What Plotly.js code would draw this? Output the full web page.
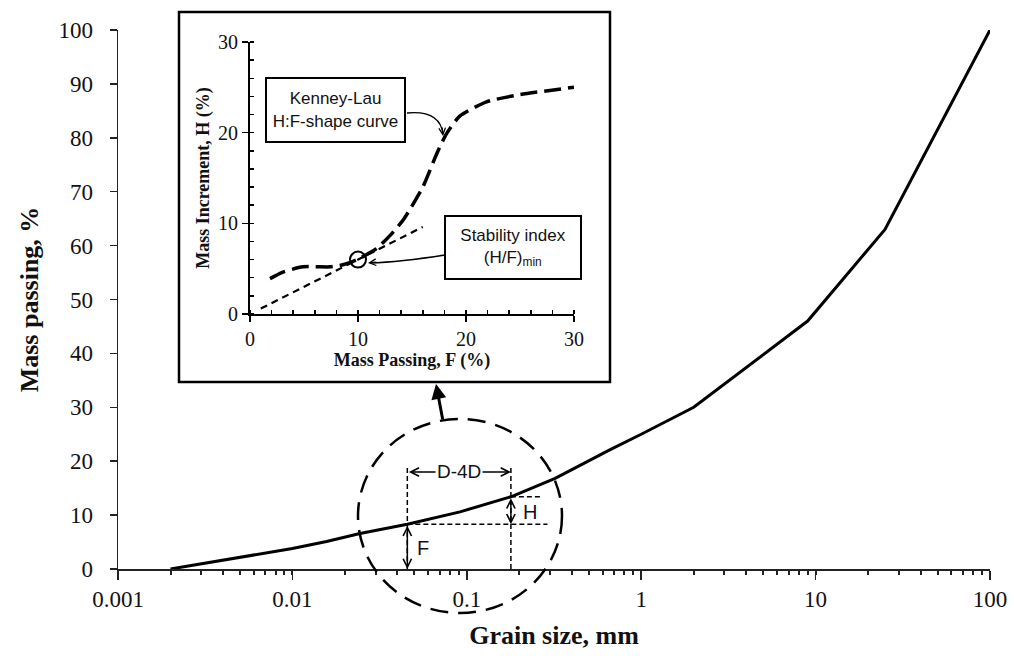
<!DOCTYPE html>
<html>
<head>
<meta charset="utf-8">
<script src="https://cdn.plot.ly/plotly-3.0.1.min.js"></script>
<style>html,body{margin:0;padding:0;background:#fff;}#chart{width:1014px;height:656px;}</style>
</head>
<body>
<div id="chart"></div>
<script>
// ---- main grading curve ----
const grainSize   = [0.002, 0.003, 0.005, 0.01, 0.0157, 0.0244, 0.0456, 0.0914, 0.179, 0.321, 0.66, 1, 2, 9, 25, 100];
const massPassing = [0, 0.95, 2.2, 3.8, 5.1, 6.6, 8.3, 10.6, 13.4, 16.8, 22.1, 25, 30, 46, 63, 100];
const xTickVals   = [0.001, 0.01, 0.1, 1, 10, 100];
const xTickText   = ['0.001', '0.01', '0.1', '1', '10', '100'];

// ---- D-4D construction ----
const sizeD   = 0.0456;
const size4D  = 0.179;
const passF   = 8.3;      // F at D
const passAt4D = 13.4;    // F+H at 4D
const guideTop = 19.3;
const arrowLevel = 18;
const guideEndF = 0.29;
const guideEndH = 0.27;

// ---- inset: Kenney-Lau H:F curve ----
const klF = [1.85, 3, 4.9, 7.4, 8.5, 9.9, 11.7, 13, 14.2, 16.0, 17.3, 18.2, 19.4, 21.9, 25, 30];
const klH = [3.9, 4.6, 5.2, 5.2, 5.4, 6.0, 7.2, 8.7, 10.4, 14.0, 17.7, 19.9, 21.8, 23.4, 24.2, 25.0];
const hfLineF = [1, 16];
const hfLineH = [0.6, 9.6];
const minF = [10];
const minH = [6];
const insetTicks = [0, 10, 20, 30];

// pixel -> paper helpers (plot area 118..990 x, 30..569 y)
const L = 118, R = 990, T = 30, B = 569;
const px = v => (v - L) / (R - L);
const py = v => (B - v) / (B - T);

const serif = 'Liberation Serif, Times New Roman, serif';
const sans = 'Liberation Sans, Arial, sans-serif';
const dashGuide = '5px,3px';

const traces = [
  {x: grainSize, y: massPassing, type: 'scatter', mode: 'lines', cliponaxis: false,
   line: {color: '#000', width: 3}, xaxis: 'x', yaxis: 'y', hoverinfo: 'skip'},
  // guides
  {x: [sizeD, sizeD], y: [0, guideTop], mode: 'lines', line: {color: '#000', width: 1.5, dash: dashGuide}, xaxis: 'x', yaxis: 'y'},
  {x: [size4D, size4D], y: [0, guideTop], mode: 'lines', line: {color: '#000', width: 1.5, dash: dashGuide}, xaxis: 'x', yaxis: 'y'},
  {x: [sizeD, guideEndF], y: [passF, passF], mode: 'lines', line: {color: '#000', width: 1.5, dash: dashGuide}, xaxis: 'x', yaxis: 'y'},
  {x: [size4D, guideEndH], y: [passAt4D, passAt4D], mode: 'lines', line: {color: '#000', width: 1.5, dash: dashGuide}, xaxis: 'x', yaxis: 'y'},
  // inset
  {x: klF, y: klH, mode: 'lines', line: {color: '#000', width: 3.5, dash: '17px,7px', shape: 'spline', smoothing: 0.6},
   xaxis: 'x2', yaxis: 'y2'},
  {x: hfLineF, y: hfLineH, mode: 'lines', line: {color: '#000', width: 2.2, dash: '7px,5px'}, xaxis: 'x2', yaxis: 'y2'},
  {x: minF, y: minH, mode: 'markers', marker: {symbol: 'circle-open', size: 16, color: '#000', line: {width: 2, color: '#000'}},
   xaxis: 'x2', yaxis: 'y2'}
];

const lg = Math.log10;
const annotations = [
  // D-4D double arrow
  {x: lg(size4D), y: arrowLevel, ax: lg(sizeD), ay: arrowLevel, axref: 'x', ayref: 'y', xref: 'x', yref: 'y',
   text: '', showarrow: true, arrowside: 'end+start', arrowhead: 5, arrowsize: 1.1, arrowwidth: 1.5, arrowcolor: '#000', standoff: 0, startstandoff: 0},
  {x: lg(Math.sqrt(sizeD * size4D)), y: arrowLevel, xref: 'x', yref: 'y', text: 'D-4D', showarrow: false,
   xanchor: 'center', yanchor: 'middle', bgcolor: '#fff', borderpad: 1, font: {family: sans, size: 19, color: '#111'}},
  // F arrow
  {x: lg(sizeD), y: 0, ax: lg(sizeD), ay: passF, axref: 'x', ayref: 'y', xref: 'x', yref: 'y',
   text: '', showarrow: true, arrowside: 'end+start', arrowhead: 5, arrowsize: 1.1, arrowwidth: 1.5, arrowcolor: '#000', standoff: 0, startstandoff: 0},
  {x: lg(0.056), y: 3.9, xref: 'x', yref: 'y', text: 'F', showarrow: false, xanchor: 'center', yanchor: 'middle',
   font: {family: sans, size: 20, color: '#111'}},
  // H arrow
  {x: lg(size4D), y: passF, ax: lg(size4D), ay: passAt4D, axref: 'x', ayref: 'y', xref: 'x', yref: 'y',
   text: '', showarrow: true, arrowside: 'end+start', arrowhead: 5, arrowsize: 1.1, arrowwidth: 1.5, arrowcolor: '#000', standoff: 0, startstandoff: 0},
  {x: lg(0.23), y: 10.6, xref: 'x', yref: 'y', text: 'H', showarrow: false, xanchor: 'center', yanchor: 'middle',
   font: {family: sans, size: 20, color: '#111'}},
  // arrow from circle to inset
  {x: px(436), y: py(384), xref: 'paper', yref: 'paper', ax: 7, ay: 37, text: '', showarrow: true,
   arrowhead: 2, arrowsize: 1, arrowwidth: 3, arrowcolor: '#000', standoff: 0},
  // text boxes in inset
  {x: px(335.5), y: py(110), xref: 'paper', yref: 'paper', xanchor: 'center', yanchor: 'middle',
   text: 'Kenney-Lau<br>H:F-shape curve', showarrow: false,
   width: 135, height: 60, bgcolor: '#fff', bordercolor: '#000', borderwidth: 2, borderpad: 1,
   font: {family: sans, size: 17, color: '#111'}},
  {x: px(513), y: py(247.5), xref: 'paper', yref: 'paper', xanchor: 'center', yanchor: 'middle',
   text: 'Stability index<br>(H/F)<sub>min</sub>', showarrow: false,
   width: 132, height: 59, bgcolor: '#fff', bordercolor: '#000', borderwidth: 2, borderpad: 1,
   font: {family: sans, size: 17, color: '#111'}},
  // arrow heads for curved arrows
  {x: px(443), y: py(136), xref: 'paper', yref: 'paper', ax: -1, ay: -10, text: '', showarrow: true,
   arrowhead: 5, arrowsize: 1, arrowwidth: 1.3, arrowcolor: '#000', standoff: 0},
  {x: px(368), y: py(263), xref: 'paper', yref: 'paper', ax: 10, ay: -1, text: '', showarrow: true,
   arrowhead: 5, arrowsize: 1, arrowwidth: 1.3, arrowcolor: '#000', standoff: 0}
];

const shapes = [
  // inset frame
  {type: 'rect', xref: 'paper', yref: 'paper', x0: px(179), x1: px(610), y0: py(382), y1: py(12),
   line: {color: '#000', width: 2.5}, fillcolor: '#fff', layer: 'below'},
  // dashed circle around D-4D zone
  {type: 'circle', xref: 'paper', yref: 'paper', x0: px(358), x1: px(562), y0: py(613), y1: py(419),
   line: {color: '#000', width: 2.5, dash: '18px,10px'}},
  // curved arrow lines
  {type: 'path', xref: 'paper', yref: 'paper',
   path: `M${px(407)},${py(113)} Q${px(440)},${py(110)} ${px(443)},${py(134)}`, line: {color: '#000', width: 1.3}},
  {type: 'path', xref: 'paper', yref: 'paper',
   path: `M${px(445)},${py(255)} Q${px(400)},${py(262)} ${px(370)},${py(263)}`, line: {color: '#000', width: 1.3}}
];

const layout = {
  width: 1014, height: 656,
  margin: {l: 118, r: 24, t: 30, b: 87},
  paper_bgcolor: '#fff', plot_bgcolor: 'rgba(0,0,0,0)',
  showlegend: false,
  xaxis: {
    type: 'log', range: [-3, 2], tickmode: 'array', tickvals: xTickVals, ticktext: xTickText,
    ticks: 'outside', ticklen: 9, tickwidth: 1.5, tickcolor: '#222',
    showline: true, linecolor: '#222', linewidth: 1.5, showgrid: false, zeroline: false,
    minor: {dtick: 'D1', ticks: 'outside', ticklen: 4, tickwidth: 2, tickcolor: '#222', showgrid: false},
    tickfont: {family: serif, size: 23, color: '#111'},
    title: {text: '<b>Grain size, mm</b>', font: {family: serif, size: 26, color: '#111'}, standoff: 14}
  },
  yaxis: {
    range: [0, 100], dtick: 10, ticks: 'outside', ticklen: 7, tickwidth: 1.5, tickcolor: '#222',
    showline: true, linecolor: '#222', linewidth: 1.5, showgrid: false, zeroline: false,
    ticklabelstandoff: 12,
    tickfont: {family: serif, size: 23, color: '#111'},
    title: {text: '<b>Mass passing, %</b>', font: {family: serif, size: 26, color: '#111'}, standoff: 12}
  },
  xaxis2: {
    domain: [px(250), px(574)], anchor: 'y2', range: [0, 30], tickmode: 'array', tickvals: insetTicks,
    ticks: 'outside', ticklen: 6, tickwidth: 1.5, tickcolor: '#000',
    showline: true, linecolor: '#000', linewidth: 2, showgrid: false, zeroline: false,
    minor: {dtick: 2, ticks: 'inside', ticklen: 4, tickwidth: 1.5, tickcolor: '#000', showgrid: false},
    tickfont: {family: serif, size: 20, color: '#111'},
    title: {text: '<b>Mass Passing, F (%)</b>', font: {family: serif, size: 18, color: '#111'}, standoff: 2}
  },
  yaxis2: {
    domain: [py(314), py(42)], anchor: 'x2', range: [0, 30], tickmode: 'array', tickvals: insetTicks,
    ticks: 'outside', ticklen: 6, tickwidth: 1.5, tickcolor: '#000',
    showline: true, linecolor: '#000', linewidth: 2, showgrid: false, zeroline: false,
    minor: {dtick: 2, ticks: 'inside', ticklen: 4, tickwidth: 1.5, tickcolor: '#000', showgrid: false},
    tickfont: {family: serif, size: 20, color: '#111'},
    title: {text: '<b>Mass Increment, H (%)</b>', font: {family: serif, size: 18, color: '#111'}, standoff: 4}
  },
  shapes: shapes,
  annotations: annotations
};

Plotly.newPlot('chart', traces, layout, {staticPlot: true, displayModeBar: false});
</script>
</body>
</html>
